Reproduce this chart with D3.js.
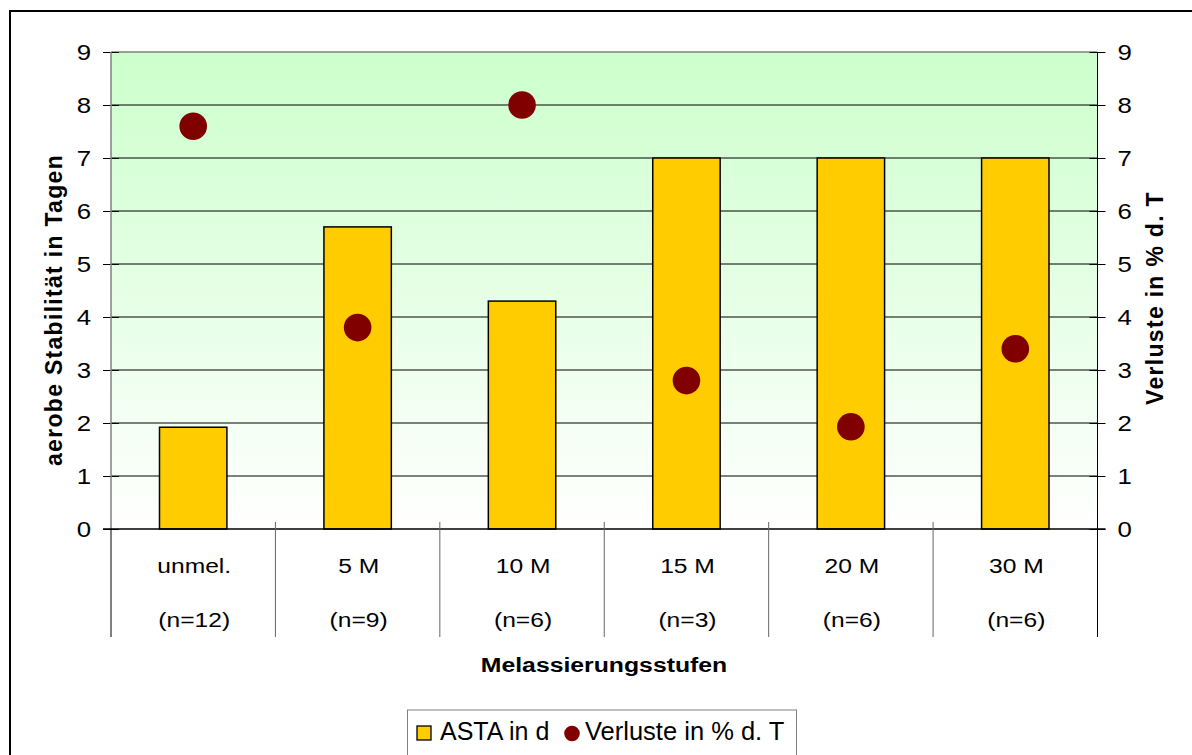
<!DOCTYPE html>
<html><head><meta charset="utf-8">
<script src="https://cdn.jsdelivr.net/npm/d3@7"></script>
<style>body{margin:0;background:#fff;}svg{display:block;font-family:"Liberation Sans",Arial,sans-serif;}</style>
</head><body><svg id="c" width="1192" height="755"></svg>
<script>
const categories = ["unmel.", "5 M", "10 M", "15 M", "20 M", "30 M"];
const nLabels = ["(n=12)", "(n=9)", "(n=6)", "(n=3)", "(n=6)", "(n=6)"];
const asta = [1.92, 5.7, 4.3, 7, 7, 7];
const verluste = [7.6, 3.8, 8.0, 2.8, 1.93, 3.4];
const ticks = [0,1,2,3,4,5,6,7,8,9];

const FONT = "Liberation Sans, Arial, sans-serif";
const SX = 1.2; // horizontal glyph stretch seen in the reference
const svg = d3.select("#c");
const L = 111, R = 1097.5, T = 52, B = 529;

function htext(parent, x, y, txt, size, anchor, bold, sx){
  return parent.append("text").attr("transform",`translate(${x},${y}) scale(${sx||SX},1)`)
    .attr("text-anchor",anchor||"start").attr("font-size",size)
    .attr("font-weight",bold?"bold":"normal").attr("font-family",FONT).attr("fill","#000").text(txt);
}

svg.append("rect").attr("x",10).attr("y",11).attr("width",1200).attr("height",800)
  .attr("fill","#fff").attr("stroke","#000").attr("stroke-width",2);

const defs = svg.append("defs");
const g = defs.append("linearGradient").attr("id","bg").attr("x1",0).attr("y1",0).attr("x2",0).attr("y2",1);
g.append("stop").attr("offset","0%").attr("stop-color","#ccffcc");
g.append("stop").attr("offset","100%").attr("stop-color","#ffffff");

const x = d3.scaleBand().domain(categories).range([L,R]);
const y = d3.scaleLinear().domain([0,9]).range([B,T]);
const y2 = d3.scaleLinear().domain([0,9]).range([B,T]);

svg.append("rect").attr("x",L).attr("y",T).attr("width",R-L).attr("height",B-T).attr("fill","url(#bg)");

// gridlines
svg.append("g").selectAll("line").data(ticks.slice(1)).join("line")
  .attr("x1",L).attr("x2",R).attr("y1",d=>y(d)).attr("y2",d=>y(d))
  .attr("stroke",(d)=>d===9?"#808080":"#000").attr("stroke-width",d=>d===9?1.5:1);

// left axis
const la = svg.append("g").attr("transform",`translate(${L},0)`)
  .call(d3.axisLeft(y).tickValues(ticks).tickSize(8).tickPadding(12));
la.select(".domain").remove();
la.selectAll(".tick line").attr("stroke","#000").attr("x2",-8).attr("x1",8);
la.selectAll(".tick text").attr("font-size",21.5).attr("fill","#000").attr("font-family",FONT)
  .attr("dy","0.36em").attr("x",-20/SX).attr("transform",`scale(${SX},1)`);
svg.append("line").attr("x1",L).attr("x2",L).attr("y1",T).attr("y2",B).attr("stroke","#808080").attr("stroke-width",1.5);

// right axis
const ra = svg.append("g").attr("transform",`translate(${R},0)`)
  .call(d3.axisRight(y2).tickValues(ticks).tickSize(8).tickPadding(12));
ra.select(".domain").remove();
ra.selectAll(".tick line").attr("stroke","#000").attr("x1",-8).attr("x2",8);
ra.selectAll(".tick text").attr("font-size",21.5).attr("fill","#000").attr("font-family",FONT)
  .attr("dy","0.36em").attr("x",20/SX).attr("transform",`scale(${SX},1)`);
svg.append("line").attr("x1",R).attr("x2",R).attr("y1",T).attr("y2",637).attr("stroke","#000").attr("stroke-width",1);

// bars
const bw = x.bandwidth()*0.41;
svg.append("g").selectAll("rect").data(asta).join("rect")
  .attr("x",(d,i)=>x(categories[i])+x.bandwidth()/2-bw/2)
  .attr("y",d=>y(d)).attr("width",bw).attr("height",d=>B-y(d))
  .attr("fill","#ffcc00").attr("stroke","#000").attr("stroke-width",1.5);

// baseline
svg.append("line").attr("x1",L-8).attr("x2",R+8).attr("y1",B).attr("y2",B).attr("stroke","#000").attr("stroke-width",1.5);

// category dividers
const bounds = categories.map(c=>x(c)).concat([R]);
svg.append("g").selectAll("line").data(bounds).join("line")
  .attr("x1",d=>d).attr("x2",d=>d).attr("y1",(d,i)=>(i===0||i===bounds.length-1)?B:B-7).attr("y2",637)
  .attr("stroke",(d,i)=>(i===0||i===bounds.length-1)?"#000":"#666").attr("stroke-width",1);

// category labels
const cl = svg.append("g");
categories.forEach((c,i)=>{
  const cx = x(c)+x.bandwidth()/2+1;
  htext(cl, cx, 573, c, 20.5, "middle", false, 1.2);
  htext(cl, cx, 627, nLabels[i], 20.5, "middle", false, 1.2);
});

// dots
svg.append("g").selectAll("circle").data(verluste).join("circle")
  .attr("cx",(d,i)=>x(categories[i])+x.bandwidth()/2).attr("cy",d=>y2(d)).attr("r",13.8)
  .attr("fill","#800000");

// titles
htext(svg, 604, 672, "Melassierungsstufen", 21, "middle", true, 1.18);
svg.append("text").attr("transform",`translate(62,${310}) rotate(-90)`).attr("text-anchor","middle")
  .attr("font-size",23).attr("font-weight","bold").attr("letter-spacing",1.3).text("aerobe Stabilität in Tagen");
svg.append("text").attr("transform",`translate(1163,${298}) rotate(-90)`).attr("text-anchor","middle")
  .attr("font-size",23).attr("font-weight","bold").attr("letter-spacing",1.3).text("Verluste in % d. T");

// legend
svg.append("rect").attr("x",407.5).attr("y",710).attr("width",389).attr("height",60).attr("fill","#fff").attr("stroke","#808080");
svg.append("rect").attr("x",417).attr("y",726).attr("width",14).attr("height",14).attr("fill","#ffcc00").attr("stroke","#000").attr("stroke-width",1.3);
htext(svg, 440, 740, "ASTA in d", 25, "start", false, 1.0);
svg.append("circle").attr("cx",572).attr("cy",733.5).attr("r",7.8).attr("fill","#800000");
htext(svg, 585, 740, "Verluste in % d. T", 25.5, "start", false, 1.0);
</script></body></html>
